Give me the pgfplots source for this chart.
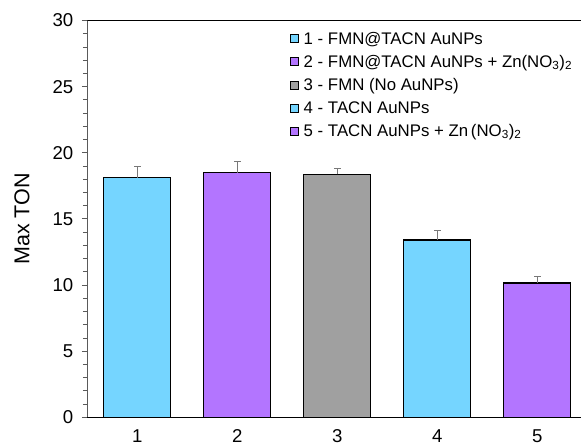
\documentclass[border=0pt]{standalone}
\usepackage{pgfplots}
\pgfplotsset{compat=1.18}
\usepackage{fontspec}
\setmainfont{Liberation Sans}

\definecolor{barcyan}{RGB}{117,213,255}
\definecolor{barpurple}{RGB}{179,117,255}
\definecolor{bargray}{RGB}{160,160,160}
\definecolor{errgray}{RGB}{120,120,120}
\definecolor{axgray}{RGB}{90,90,90}

\begin{document}
\begin{tikzpicture}[x=1pt,y=1pt]
\clip (0,0) rectangle (581,447);
\begin{axis}[
  at={(87.3pt,29.7pt)}, anchor=south west,
  scale only axis,
  width=493.7pt, height=396.8pt,
  xmin=0.5, xmax=5.437,
  ymin=0, ymax=30,
  axis x line*=bottom,
  axis y line*=left,
  x axis line style={black, line width=0.9pt},
  y axis line style={axgray, line width=0.9pt},
  xtick={1,2,3,4,5},
  xtick style={draw=none},
  ytick={0,5,...,30},
  minor y tick num=4,
  tick align=outside,
  ytick pos=left,
  y tick style={axgray, line width=0.8pt},
  major tick length=5.5pt,
  minor tick length=4.5pt,
  tick label style={font=\fontsize{18.6}{21}\selectfont},
  /pgf/number format/assume math mode=true,
  xticklabel style={yshift=-3pt},
  yticklabel style={xshift=-5pt},
  ylabel={Max TON},
  ylabel style={at={(axis description cs:-0.1323,0.5)}, anchor=center, font=\fontsize{21.5}{24}\selectfont},
  ybar, bar shift=0pt, bar width=0.67,
  every axis plot/.append style={draw=black, line width=1.2pt},
  legend style={draw=none, fill=none, at={(rel axis cs:0.4066,0.982)}, anchor=north west,
    font=\fontsize{16.8}{19}\selectfont, row sep=5.5pt, inner sep=2pt},
  legend cell align=left,
  legend image code/.code={\draw[#1, line width=0.8pt] (0pt,-4pt) rectangle (8pt,4pt);
    \path (10.5pt,0pt);},
  error bars/y dir=plus,
  error bars/y explicit,
  error bars/error bar style={errgray, line width=1pt},
  error bars/error mark options={rotate=90, mark size=3.2pt, errgray, line width=1pt},
]
\addplot[fill=barcyan] coordinates {(1,18.10) +- (0,0.85)};
\addlegendentry{1 - FMN@TACN AuNPs}
\addplot[fill=barpurple] coordinates {(2,18.48) +- (0,0.88)};
\addlegendentry{2 - FMN@TACN AuNPs + Zn(NO\textsubscript{3})\textsubscript{2}}
\addplot[fill=bargray] coordinates {(3,18.36) +- (0,0.42)};
\addlegendentry{3 - FMN (No AuNPs)}
\addplot[fill=barcyan] coordinates {(4,13.41) +- (0,0.71)};
\addlegendentry{4 - TACN AuNPs}
\addplot[fill=barpurple] coordinates {(5,10.16) +- (0,0.51)};
\addlegendentry{5 - TACN AuNPs + Zn\,(NO\textsubscript{3})\textsubscript{2}}
\draw[black, line width=0.9pt] (rel axis cs:0,1) -- (rel axis cs:1,1);
\end{axis}
\end{tikzpicture}
\end{document}
